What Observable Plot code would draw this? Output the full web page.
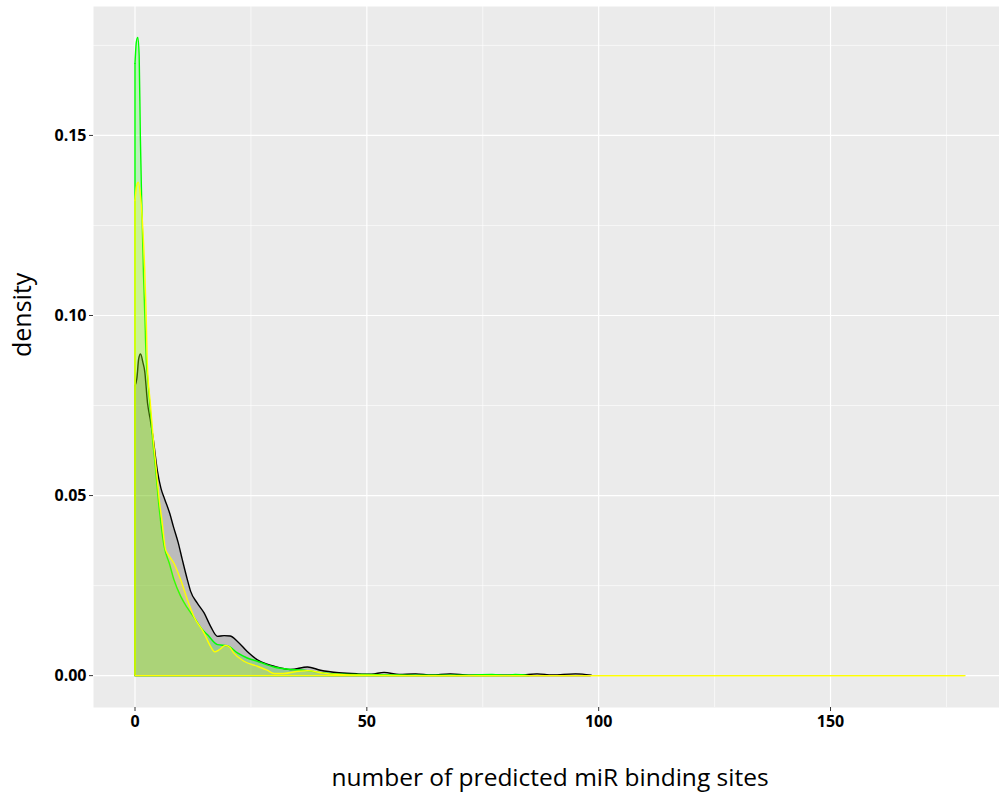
<!DOCTYPE html>
<html>
<head>
<meta charset="utf-8">
<script src="https://cdn.jsdelivr.net/npm/d3@7"></script>
<script src="https://cdn.jsdelivr.net/npm/@observablehq/plot@0.6"></script>
<style>
  html, body { margin: 0; padding: 0; background: #ffffff; width: 999px; height: 793px; overflow: hidden; }
  #chart svg { display: block; max-width: none !important; width: 1010px !important; height: 793px !important; }
  #chart g[aria-label="x-axis tick label"] text,
  #chart g[aria-label="y-axis tick label"] text { font-weight: 700; }
</style>
</head>
<body>
<div id="chart"></div>
<script>
// ---- data (x = number of sites, y = density) ----
const blackX = [0, 0.4, 0.8, 1.2, 1.7, 2.1, 2.7, 3.3, 3.9, 4.8, 5.6, 6.4, 7.5, 8.3, 9.3, 10.2, 11.3, 12, 13.4, 14.9, 16.3, 17.8, 19.2, 20.5, 22.1, 24.2, 26.4, 28.5, 30, 33.6, 37.2, 40, 44, 48, 51, 53.7, 57, 60.5, 64, 68, 72, 78, 83, 86.7, 90, 95, 98.4];
const blackY = [0.0805, 0.0825, 0.088, 0.0893, 0.087, 0.0845, 0.0757, 0.071, 0.066, 0.0571, 0.052, 0.049, 0.045, 0.0413, 0.037, 0.0322, 0.0266, 0.0234, 0.0202, 0.0174, 0.0137, 0.0109, 0.0111, 0.0110, 0.0095, 0.0067, 0.0044, 0.0032, 0.0026, 0.0017, 0.0024, 0.0015, 0.0008, 0.0005, 0.0004, 0.0009, 0.0003, 0.0005, 0.0002, 0.0005, 0.0001, 0.0001, 0.0001, 0.0005, 0.0002, 0.0005, 0.0001];

const greenX = [0, 0.3, 0.6, 0.9, 1.15, 1.44, 1.8, 2.1, 2.45, 2.7, 3.17, 3.75, 4.46, 5.17, 6.3, 7.4, 8.4, 9.86, 11.3, 13.1, 14.5, 15.6, 17.8, 19.9, 22.1, 24.2, 26.4, 28.5, 30, 33.6, 37.2, 41, 45, 50, 55, 60, 70, 77, 80, 82, 85];
const greenY = [0.170, 0.176, 0.1772, 0.172, 0.150, 0.132, 0.1126, 0.1006, 0.0868, 0.083, 0.0757, 0.0663, 0.0571, 0.047, 0.0358, 0.0312, 0.0266, 0.022, 0.0188, 0.0155, 0.0128, 0.0114, 0.0086, 0.0083, 0.0063, 0.0049, 0.004, 0.003, 0.0024, 0.0017, 0.0014, 0.0007, 0.0004, 0.0003, 0.0002, 0.0001, 0.0001, 0.0003, 0.0001, 0.0003, 0];

const yellowX = [0, 0.35, 0.7, 1.2, 1.6, 2.1, 2.4, 2.65, 3.3, 3.9, 4.6, 5.3, 5.8, 6.6, 7.5, 8.4, 9.86, 11.3, 12.7, 14.9, 16.3, 17.2, 18.2, 19.5, 20.5, 21.3, 23.5, 26.4, 28.5, 30, 32, 35.3, 37.2, 40.6, 44, 50, 60, 179];
const yellowY = [0.132, 0.136, 0.137, 0.133, 0.126, 0.1126, 0.1006, 0.0868, 0.0757, 0.0663, 0.0571, 0.048, 0.0432, 0.035, 0.033, 0.0312, 0.0266, 0.0211, 0.0164, 0.0118, 0.0081, 0.0066, 0.0072, 0.0084, 0.0078, 0.0063, 0.004, 0.0026, 0.0015, 0.0006, 0.0006, 0.0012, 0.0014, 0.0007, 0.0003, 0.0001, 0, 0];

const xMajorTicks = [0, 50, 100, 150];
const xMinorTicks = [25, 75, 125, 175];
const yMajorTicks = [0, 0.05, 0.10, 0.15];
const yMinorTicks = [0.025, 0.075, 0.125, 0.175];

const seriesNames = ["black", "green", "yellow"];
const seriesColors = ["#000000", "#00ff00", "#ffff00"];

const xTitle = "number of predicted miR binding sites";
const yTitle = "density";

// ---- build tables ----
const series = [
  {name: seriesNames[0], color: seriesColors[0], data: blackX.map((x, i) => ({x, y: blackY[i]}))},
  {name: seriesNames[1], color: seriesColors[1], data: greenX.map((x, i) => ({x, y: greenY[i]}))},
  {name: seriesNames[2], color: seriesColors[2], data: yellowX.map((x, i) => ({x, y: yellowY[i]}))}
];

const font = "'Open Sans', 'DejaVu Sans', sans-serif";

const densityMarks = series.flatMap(s => [
  Plot.areaY(s.data, {x: "x", y: "y", curve: "monotone-x", fill: s.color, fillOpacity: 0.2}),
  Plot.ruleX(s.data.slice(0, 1), {x: "x", y1: 0, y2: "y", stroke: s.color, strokeWidth: 1.4}),
  Plot.ruleY([0], {x1: s.data[0].x, x2: s.data[s.data.length - 1].x, stroke: s.color, strokeWidth: 1.4}),
  Plot.line(s.data, {x: "x", y: "y", curve: "monotone-x", stroke: s.color, strokeWidth: 1.4})
]);

const chart = Plot.plot({
  width: 1010,
  height: 793,
  marginLeft: 93,
  marginRight: 4,
  marginTop: 6,
  marginBottom: 86,
  style: {fontFamily: font, background: "#ffffff", color: "#000000", overflow: "hidden", maxWidth: "none"},
  x: {domain: [-8.95, 187.95]},
  y: {domain: [-0.00885, 0.1858]},
  marks: [
    Plot.frame({fill: "#ebebeb", stroke: "none"}),
    Plot.ruleX(xMinorTicks, {stroke: "#ffffff", strokeWidth: 0.6}),
    Plot.ruleY(yMinorTicks, {stroke: "#ffffff", strokeWidth: 0.6}),
    Plot.ruleX(xMajorTicks, {stroke: "#ffffff", strokeWidth: 1.2}),
    Plot.ruleY(yMajorTicks, {stroke: "#ffffff", strokeWidth: 1.2}),
    ...densityMarks,
    Plot.axisX({ticks: xMajorTicks, tickSize: 4, tickPadding: 4, stroke: "#333333", fill: "#000000", fontSize: 16, label: null}),
    Plot.axisY({ticks: yMajorTicks, tickSize: 4, tickPadding: 3, tickFormat: d3.format(".2f"), stroke: "#333333", fill: "#000000", fontSize: 16, label: null}),
    Plot.text([xTitle], {frameAnchor: "bottom", dy: 71, text: d => d, fontSize: 24.5, fill: "#000000", lineAnchor: "middle"}),
    Plot.text([yTitle], {frameAnchor: "left", dx: -71, dy: 0, text: d => d, fontSize: 25, fill: "#000000", rotate: -90, lineAnchor: "middle"})
  ]
});

document.getElementById("chart").appendChild(chart);
</script>
</body>
</html>
